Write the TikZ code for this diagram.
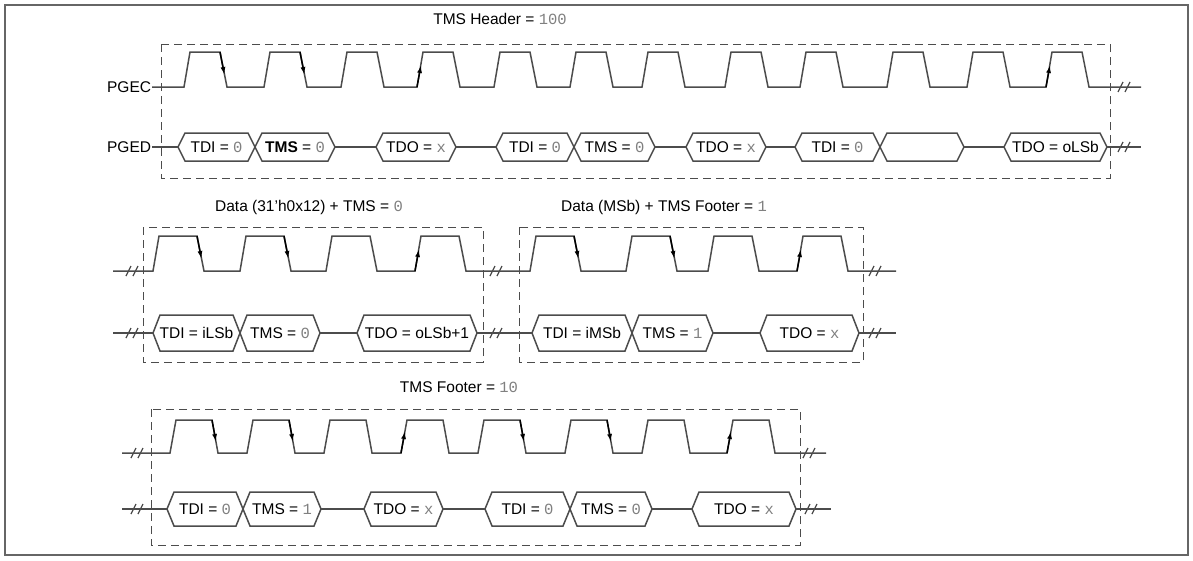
\documentclass[tikz,border=0pt]{standalone}
\usepackage{fontspec}
\setmainfont{Liberation Sans}
\setmonofont{Liberation Mono}
\usepackage{xcolor}
\usetikzlibrary{arrows.meta}
\tikzset{
  wave/.style={line width=1.5pt, color=black!70},
  hexbox/.style={line width=1.5pt, color=black!70, fill=white},
  frame/.style={dashed, dash pattern=on 8pt off 5pt, line width=1pt, color=black!70},
  edgearrow/.style={line width=1.5pt, -{Latex[length=8pt,width=5pt]}},
  lbl/.style={inner sep=0.75pt, font=\fontsize{15.5}{18}\selectfont}
}
\newcommand{\vv}[1]{{\ttfamily\color{black!50}#1}}
% hexagon data cell: x1, x2, y, half height, text
\newcommand{\cell}[5]{%
  \draw[hexbox] (#1,#3) -- ({#1+7},{#3-#4}) -- ({#2-7},{#3-#4}) -- (#2,#3) -- ({#2-7},{#3+#4}) -- ({#1+7},{#3+#4}) -- cycle;
  \node[lbl] at ({(#1+#2)/2},#3) {#5};}
% break mark
\newcommand{\brk}[2]{%
  \draw[wave, line width=1.2pt] ({#1-6},{#2+5}) -- ({#1-1},{#2-5}) ({#1+1},{#2+5}) -- ({#1+6},{#2-5});}
\begin{document}
\begin{tikzpicture}[x=1pt,y=1pt,yscale=-1]
\useasboundingbox (0,0) rectangle (1193,560);
\draw[black!60, line width=1.5pt] (5,5) rectangle (1188,555);

%TMS Header block
\draw[frame] (161,44) rectangle (1110,178);
\node[lbl] (hdr) at (500,19) {TMS Header = \vv{100}};
\node[lbl, anchor=east] (pgec) at (152,87) {PGEC};
\node[lbl, anchor=east] (pged) at (152,147) {PGED};
\draw[wave] (pgec.east) foreach \r in {184,264,341,417,494,570,642,725,800,887,967,1046}
  { -- (\r,87) -- ({\r+6},52) -- ({\r+36},52) -- ({\r+43},87) } -- (1141,87);
\brk{1124}{87}
\foreach \r in {184,264} \draw[edgearrow] ({\r+36},52) -- ({\r+40.5},75);
\foreach \r in {417,1046} \draw[edgearrow] (\r,87) -- ({\r+4},65);
\draw[wave] (pged.east) -- (1141,147);
\brk{1124}{147}
\cell{178}{255}{147}{14}{TDI = \vv{0}}
\cell{255}{335}{147}{14}{\textbf{TMS} = \vv{0}}
\cell{376}{456}{147}{14}{TDO = \vv{x}}
\cell{496}{574}{147}{14}{TDI = \vv{0}}
\cell{574}{655}{147}{14}{TMS = \vv{0}}
\cell{686}{766}{147}{14}{TDO = \vv{x}}
\cell{795}{880}{147}{14}{TDI = \vv{0}}
\cell{880}{964}{147}{14}{}
\cell{1004}{1107}{147}{14}{TDO = oLSb}

%Data blocks
\draw[frame] (143,227) rectangle (483,362);
\draw[frame] (519,227) rectangle (863,362);
\node[lbl] (data) at (309,207) {Data (31'h0x12) + TMS = \vv{0}};
\node[lbl] (msb) at (664,207) {Data (MSb) + TMS Footer = \vv{1}};
\draw[wave] (113,271) foreach \r in {153,240,326,415,530,626,708,797}
  { -- (\r,271) -- ({\r+6},236) -- ({\r+44},236) -- ({\r+51},271) } -- (896,271);
\foreach \x in {132,496,875} \brk{\x}{271};
\foreach \r in {153,240,530,626} \draw[edgearrow] ({\r+44},236) -- ({\r+48.5},259);
\foreach \r in {415,797} \draw[edgearrow] (\r,271) -- ({\r+4},249);
\draw[wave] (113,333) -- (896,333);
\foreach \x in {132,496,875} \brk{\x}{333};
\cell{153}{240}{333}{18}{TDI = iLSb}
\cell{240}{320}{333}{18}{TMS = \vv{0}}
\cell{357}{477}{333}{18}{TDO = oLSb+1}
\cell{532}{632}{333}{18}{TDI = iMSb}
\cell{632}{713}{333}{18}{TMS = \vv{1}}
\cell{760}{859}{333}{18}{TDO = \vv{x}}

%TMS Footer block
\draw[frame] (151,409) rectangle (800,545);
\node[lbl] (ftr) at (459,387) {TMS Footer = \vv{10}};
\draw[wave] (122,453) foreach \r in {170,247,324,401,478,565,642,727}
  { -- (\r,453) -- ({\r+6},420) -- ({\r+42},420) -- ({\r+48},453) } -- (826,453);
\brk{137}{453}
\brk{809}{453}
\foreach \r in {170,247,478,565} \draw[edgearrow] ({\r+42},420) -- ({\r+46},442);
\foreach \r in {401,727} \draw[edgearrow] (\r,453) -- ({\r+4},431);
\draw[wave] (122,509) -- (831,509);
\brk{137}{509}
\brk{811}{509}
\cell{167}{243}{509}{17}{TDI = \vv{0}}
\cell{243}{321}{509}{17}{TMS = \vv{1}}
\cell{364}{443}{509}{17}{TDO = \vv{x}}
\cell{485}{570}{509}{17}{TDI = \vv{0}}
\cell{570}{652}{509}{17}{TMS = \vv{0}}
\cell{692}{796}{509}{17}{TDO = \vv{x}}
\end{tikzpicture}
\end{document}
